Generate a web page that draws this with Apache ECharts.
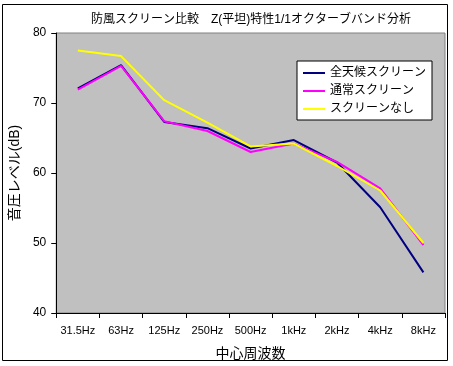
<!DOCTYPE html>
<html><head><meta charset="utf-8">
<script src="https://cdn.jsdelivr.net/npm/echarts@6/dist/echarts.min.js"></script>
<style>html,body{margin:0;padding:0;background:#fff}#c{width:453px;height:366px}</style>
</head><body><div id="c"></div>
<script>
const categories = ['31.5Hz','63Hz','125Hz','250Hz','500Hz','1kHz','2kHz','4kHz','8kHz'];
const allWeather = [72.1, 75.4, 67.3, 66.4, 63.5, 64.7, 61.5, 55.1, 45.8];
const normalScreen = [71.9, 75.3, 67.4, 66.0, 63.0, 64.2, 61.6, 57.8, 49.7];
const noScreen = [77.5, 76.7, 70.4, 67.2, 63.8, 64.2, 61.0, 57.5, 50.0];
const seriesNames = ['全天候スクリーン','通常スクリーン','スクリーンなし'];
const yTicks = [40, 50, 60, 70, 80];

const font = 'Arial, "Liberation Sans", "Noto Sans CJK JP", sans-serif';
const chart = echarts.init(document.getElementById('c'));
const colors = ['#000080','#FF00FF','#FFFF00'];
const data = [allWeather, normalScreen, noScreen];
chart.setOption({
  animation: false,
  title: {
    text: '防風スクリーン比較　Z(平坦)特性1/1オクターブバンド分析',
    left: 246, top: 9, textAlign: 'center',
    textStyle: {fontSize: 12, fontWeight: 'normal', color: '#000', fontFamily: font}
  },
  graphic: [{
    type: 'rect', shape: {x: 2.5, y: 4.5, width: 445, height: 356},
    style: {fill: 'none', stroke: '#000', lineWidth: 1}, z: -10
  }],
  legend: {
    data: seriesNames, orient: 'vertical', left: 297, top: 61,
    itemWidth: 22, itemHeight: 2, itemGap: 6,
    padding: [6, 6, 5, 6],
    borderColor: '#000', borderWidth: 1, backgroundColor: '#fff',
    icon: 'rect',
    textStyle: {fontSize: 12, color: '#000', fontFamily: font}
  },
  grid: {left: 52, top: 33, width: 393, height: 280, show: true,
    backgroundColor: '#C0C0C0', borderColor: '#808080', borderWidth: 1},
  xAxis: {
    type: 'category', data: categories, boundaryGap: true,
    name: '中心周波数', nameLocation: 'middle', nameGap: 34,
    nameTextStyle: {fontSize: 14, color: '#000', fontFamily: font},
    axisLine: {lineStyle: {color: '#000', width: 1}},
    axisTick: {show: true, inside: false, length: 5, lineStyle: {color: '#000'}},
    axisLabel: {fontSize: 11, color: '#000', margin: 12, fontFamily: font, interval: 0},
    splitLine: {show: false}
  },
  yAxis: {
    type: 'value', min: yTicks[0], max: yTicks[yTicks.length-1], interval: 10,
    name: '音圧レベル(dB)', nameLocation: 'middle', nameGap: 34, nameRotate: 90,
    nameTextStyle: {fontSize: 14, color: '#000', fontFamily: font},
    axisLine: {show: true, lineStyle: {color: '#000', width: 1}},
    axisTick: {show: true, length: 5, lineStyle: {color: '#000'}},
    axisLabel: {fontSize: 12, color: '#000', margin: 10, fontFamily: font},
    splitLine: {show: false}
  },
  series: seriesNames.map((n, i) => ({
    name: n, type: 'line', data: data[i], symbol: 'none',
    lineStyle: {color: colors[i], width: 2}, itemStyle: {color: colors[i]}
  }))
});
</script></body></html>
